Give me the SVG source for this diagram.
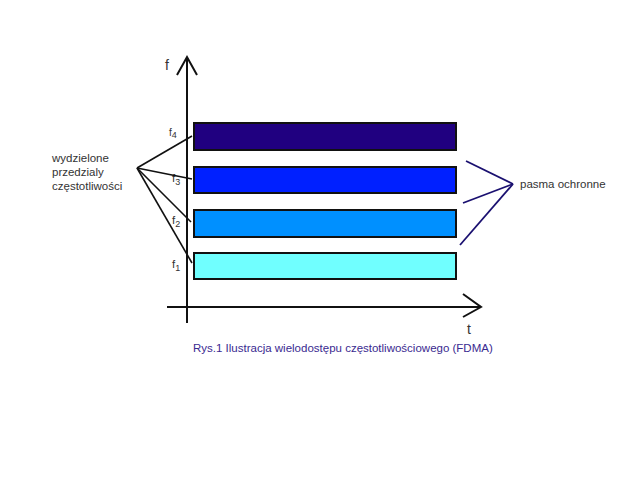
<svg xmlns="http://www.w3.org/2000/svg" width="640" height="484" viewBox="0 0 640 484">
<style>
.lbl{font-family:"Liberation Sans",Arial,sans-serif;font-size:11.5px;fill:#333}
.sub{font-family:"Liberation Sans",Arial,sans-serif;font-size:9px;fill:#333}
.band{stroke:#111;stroke-width:2}
.ax{stroke:#111;stroke-width:2;fill:none}
.k{stroke:#111;stroke-width:1.6;fill:none}
.g{stroke:#1a1070;stroke-width:1.8;fill:none}
</style>
<rect width="640" height="484" fill="#fff"/>
<g id="axes">
<line class="ax" x1="187" y1="57" x2="187" y2="323"/>
<polyline class="ax" points="177,75 187,57 197,75"/>
<line class="ax" x1="167" y1="307" x2="481" y2="307"/>
<polyline class="ax" points="463,294 481,307 463,317"/>
<text class="lbl" x="165" y="70" style="font-size:14px">f</text>
<text class="lbl" x="467" y="334" style="font-size:14px">t</text>
</g>
<g id="band4"><rect class="band" x="194" y="123" width="262" height="27" fill="#200080"/></g>
<g id="band3"><rect class="band" x="194" y="167" width="262" height="26" fill="#0020ff"/></g>
<g id="band2"><rect class="band" x="194" y="210" width="262" height="27" fill="#0090ff"/></g>
<g id="band1"><rect class="band" x="194" y="253" width="262" height="26" fill="#70ffff"/></g>
<g id="flabels">
<text class="lbl" x="169" y="136" style="font-size:10px">f<tspan class="sub" dy="2">4</tspan></text>
<text class="lbl" x="172" y="182">f<tspan class="sub" dy="3">3</tspan></text>
<text class="lbl" x="172" y="224">f<tspan class="sub" dy="3">2</tspan></text>
<text class="lbl" x="172" y="268">f<tspan class="sub" dy="3">1</tspan></text>
</g>
<g id="connectors">
<line class="k" x1="137" y1="168" x2="192" y2="136"/>
<line class="k" x1="137" y1="168" x2="192" y2="179"/>
<line class="k" x1="137" y1="168" x2="191" y2="222"/>
<line class="k" x1="137" y1="168" x2="192" y2="263"/>
<line class="g" x1="513" y1="184" x2="466" y2="161"/>
<line class="g" x1="513" y1="184" x2="463" y2="203"/>
<line class="g" x1="513" y1="184" x2="460" y2="245"/>
</g>
<g id="label-left">
<text class="lbl" x="52" y="162">wydzielone</text>
<text class="lbl" x="52" y="176">przedzialy</text>
<text class="lbl" x="52" y="190">częstotliwości</text>
</g>
<g id="label-right"><text class="lbl" x="520" y="188">pasma ochronne</text></g>
<g id="caption"><text x="193" y="352" style="font-family:'Liberation Sans',Arial,sans-serif;font-size:11.5px;fill:#3a2a90">Rys.1 Ilustracja wielodostępu częstotliwościowego (FDMA)</text></g>
</svg>
